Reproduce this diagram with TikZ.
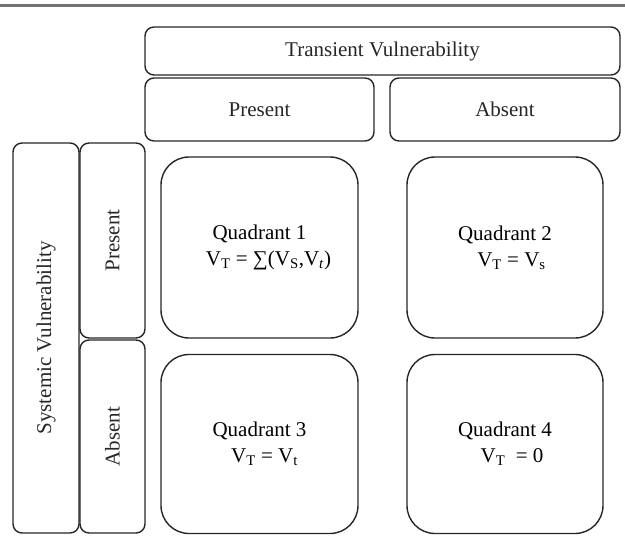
\documentclass[tikz,border=0pt]{standalone}
\usepackage{fontspec}
\setmainfont{Liberation Serif}
\begin{document}
\begin{tikzpicture}[x=1pt,y=-1pt,
  box/.style={draw=black!85,line width=1.4pt,rounded corners=9pt,inner sep=0pt,anchor=center},
  quad/.style={draw=black!85,line width=1.4pt,rounded corners=28pt,inner sep=0pt,anchor=center,
    align=center,font=\fontsize{21}{26}\selectfont},
  lbl/.style={font=\fontsize{21}{25}\selectfont,text=black!85}]
\useasboundingbox (0,0) rectangle (625,536);
\draw[line width=2.5pt,black!55] (0,5.5) -- (625,5.5);
% top header
\node[box,minimum width=475pt,minimum height=48pt] (tv) at (382.5,51) {};
\node[lbl] (tvt) at (tv.center) {Transient Vulnerability};
\node[box,minimum width=229pt,minimum height=63pt] (tp) at (259.5,109.5) {};
\node[lbl] (tpt) at (tp.center) {Present};
\node[box,minimum width=230pt,minimum height=63pt] (ta) at (505,109.5) {};
\node[lbl] (tat) at (ta.center) {Absent};
% left header
\node[box,minimum width=66pt,minimum height=390pt] (sv) at (46,338) {};
\node[lbl,rotate=90] (svt) at (sv.center) {Systemic Vulnerability};
\node[box,minimum width=65pt,minimum height=195pt] (sp) at (112.5,240.5) {};
\node[lbl,rotate=90] (spt) at (sp.center) {Present};
\node[box,minimum width=65pt,minimum height=193pt] (sa) at (112.5,436.5) {};
\node[lbl,rotate=90] (sat) at (sa.center) {Absent};
% quadrants
\node[quad,minimum width=197pt,minimum height=181pt] (q1) at (259.5,247.5)
  {Quadrant 1\\\hspace*{18pt}V\textsubscript{T} = ∑(V\textsubscript{S},V\textsubscript{\textit{t}})};
\node[quad,minimum width=196pt,minimum height=181pt] (q2) at (505,247.5)
  {Quadrant 2\\\hspace*{13pt}V\textsubscript{T} = V\textsubscript{s}};
\node[quad,minimum width=197pt,minimum height=179pt] (q3) at (259.5,444)
  {Quadrant 3\\\hspace*{10pt}V\textsubscript{T} = V\textsubscript{t}};
\node[quad,minimum width=196pt,minimum height=179pt] (q4) at (505,444)
  {Quadrant 4\\\hspace*{14pt}V\textsubscript{T}\ \ = 0};
\end{tikzpicture}
\end{document}
